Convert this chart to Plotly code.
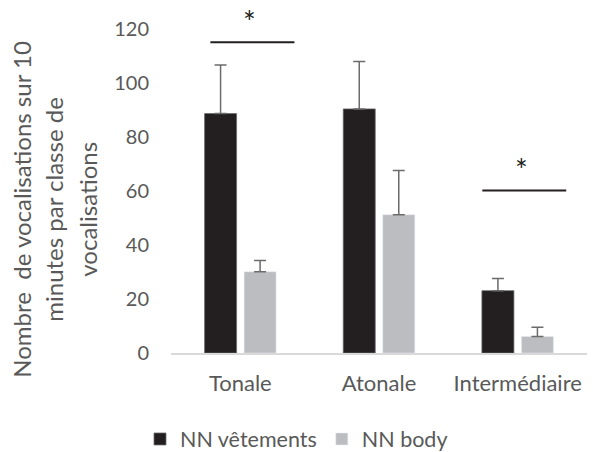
import plotly.graph_objects as go

categories = ["Tonale", "Atonale", "Intermédiaire"]
vetements = [88.7, 90.4, 23.1]
vetements_err = [18.0, 17.6, 4.5]
body = [30.1, 51.2, 6.1]
body_err = [4.2, 16.4, 3.4]
y_ticks = [0, 20, 40, 60, 80, 100, 120]
title_lines = ["Nombre  de vocalisations sur 10", "minutes par classe de", "vocalisations"]

FONT = "Lato"
TXT = "#595959"

fig = go.Figure()
fig.add_trace(go.Bar(
    x=categories, y=vetements, name="NN vêtements",
    marker=dict(color="#231f20", line=dict(color="#6b6b6b", width=0.75)),
    error_y=dict(type="data", array=vetements_err, arrayminus=[0]*3, symmetric=False,
                 color="#6b6b6b", thickness=1.5, width=6),
))
fig.add_trace(go.Bar(
    x=categories, y=body, name="NN body",
    marker=dict(color="#bcbdc0"),
    error_y=dict(type="data", array=body_err, arrayminus=[0]*3, symmetric=False,
                 color="#6b6b6b", thickness=1.5, width=6),
))

# significance markers
sig = [(-0.216, 0.39, 115.1, 0.063, 123.0), (1.745, 2.35, 60.2, 2.03, 68.0)]
for x0, x1, yl, xa, ya in sig:
    fig.add_shape(type="line", xref="x", yref="y", x0=x0, x1=x1, y0=yl, y1=yl,
                  line=dict(color="#231f20", width=2))
    fig.add_annotation(x=xa, y=ya / 120, xref="x", yref="paper", text="*", showarrow=False,
                       font=dict(family=FONT, size=30, color="#231f20"),
                       xanchor="center", yanchor="middle")

W, H = 593, 452
L, R, T, B = 171, 6, 29, 98.5
PW = W - L - R
PH = H - T - B
for px, t in zip([22, 54, 88], title_lines):
    fig.add_annotation(x=(px - L) / PW, y=(H - B - 210) / PH, xref="paper", yref="paper",
                       text=t, textangle=-90, showarrow=False,
                       font=dict(family=FONT, size=24, color=TXT),
                       xanchor="center", yanchor="middle")

fig.update_layout(
    width=W, height=H,
    margin=dict(l=L, r=R, t=T, b=B),
    paper_bgcolor="white", plot_bgcolor="white",
    barmode="group", bargap=0.43, bargroupgap=0.19,
    font=dict(family=FONT, size=20, color=TXT),
    showlegend=True,
    legend=dict(orientation="h", xref="container", yref="container",
                x=140 / W, xanchor="left", y=(H - 439) / H, yanchor="middle",
                font=dict(family=FONT, size=21.5, color=TXT), itemwidth=30),
    xaxis=dict(range=[-0.5, 2.5], showline=True, linecolor="#d9d9d9", linewidth=1.5,
               ticks="", showgrid=False, ticklabelstandoff=10, automargin=False,
               tickfont=dict(family=FONT, size=22, color=TXT)),
    yaxis=dict(range=[0, 120], tickvals=y_ticks, showline=False, showgrid=False,
               zeroline=False, ticks="", ticklabelstandoff=21, automargin=False,
               tickfont=dict(family=FONT, size=20, color=TXT)),
)

fig.write_html("out.html", config={"displayModeBar": False},
               post_script="document.body.style.margin='0';")
